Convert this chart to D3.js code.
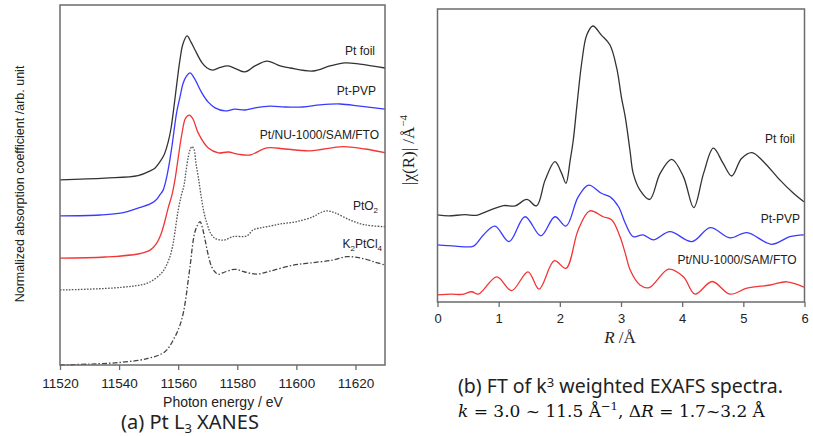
<!DOCTYPE html>
<html>
<head>
<meta charset="utf-8">
<script src="https://cdn.jsdelivr.net/npm/d3@7"></script>
<style>
  body { margin: 0; background: #fff; }
  svg { display: block; }
</style>
</head>
<body>
<div id="chart"></div>
<script>
// Pt L3 XANES spectra : [photon energy (eV), normalized absorption + offset]
const ptFoilXanes = [[11520,6.17],[11535.2,6.23],[11546.4,6.31],[11550.5,6.47],[11552.2,6.57],[11553.8,6.77],[11555.2,7.0],[11556.6,7.43],[11557.6,7.9],[11558.6,8.63],[11559.6,9.43],[11560.6,10.17],[11561.6,10.7],[11563.0,10.97],[11564.3,10.77],[11565.7,10.5],[11568.1,10.07],[11569.8,9.9],[11571.8,9.83],[11574.2,9.92],[11576.9,9.97],[11579.6,9.87],[11582.6,9.77],[11586.0,9.97],[11590.1,10.13],[11594.5,9.97],[11597.9,9.9],[11605.6,9.8],[11611.4,9.97],[11616.5,10.07],[11621.5,10.03],[11630,9.9]];
const ptPvpXanes = [[11520,4.97],[11533.5,5.0],[11541.0,5.07],[11546.4,5.23],[11550.5,5.37],[11552.5,5.5],[11553.8,5.67],[11554.9,5.83],[11555.9,6.17],[11556.9,6.67],[11557.9,7.3],[11559.5,8.43],[11560.6,8.93],[11561.7,9.4],[11562.8,9.63],[11564.0,9.74],[11565.4,9.57],[11568.0,9.07],[11570.1,8.77],[11572.5,8.57],[11575.8,8.47],[11579.2,8.53],[11582.6,8.5],[11586.0,8.57],[11591.1,8.63],[11596.2,8.6],[11602.2,8.6],[11608.0,8.67],[11614.8,8.7],[11621.5,8.63],[11630,8.53]];
const ptNuXanes = [[11520,3.56],[11535.2,3.6],[11546.4,3.7],[11550.5,3.83],[11552.5,4.03],[11554.2,4.37],[11555.5,4.8],[11556.6,5.23],[11557.9,5.67],[11558.9,6.17],[11559.9,6.83],[11561.2,7.67],[11562.5,8.23],[11563.8,8.33],[11565.0,8.2],[11566.8,7.73],[11570.2,7.23],[11573.6,7.07],[11576.9,7.1],[11580.2,7.03],[11584.3,7.0],[11590.0,7.24],[11596.2,7.2],[11604.7,7.14],[11615.8,7.28],[11623.3,7.2],[11630,7.08]];
const ptO2Xanes = [[11520,2.5],[11540.9,2.59],[11549.8,2.74],[11554.4,3.07],[11555.9,3.3],[11557.2,3.61],[11558.2,4.0],[11558.9,4.43],[11559.9,5.1],[11561.0,5.63],[11562.0,6.0],[11562.6,6.43],[11563.4,6.93],[11564.0,7.17],[11564.7,7.28],[11565.4,7.17],[11566.0,6.73],[11566.8,6.27],[11567.7,5.67],[11568.7,5.1],[11569.7,4.73],[11571.1,4.37],[11572.5,4.22],[11574.2,4.17],[11575.8,4.17],[11578.6,4.28],[11583.2,4.3],[11585.3,4.5],[11587.7,4.57],[11590.1,4.61],[11594.5,4.7],[11600.1,4.78],[11605.6,4.94],[11608.0,5.07],[11610.3,5.14],[11613.1,5.07],[11618.2,4.83],[11623.3,4.67],[11630,4.61]];
const k2PtCl4Xanes = [[11520,0.0],[11530.2,0.03],[11540.9,0.09],[11549.8,0.22],[11555.5,0.44],[11558.9,0.94],[11560.6,1.33],[11561.7,1.72],[11562.6,2.23],[11563.4,2.83],[11564.2,3.43],[11564.8,3.94],[11565.5,4.37],[11566.3,4.61],[11567.4,4.78],[11568.2,4.57],[11569.1,4.17],[11570.1,3.7],[11571.3,3.28],[11572.5,3.1],[11573.6,3.02],[11575.8,3.1],[11579.2,3.19],[11582.6,3.1],[11586.6,3.03],[11591.1,3.13],[11599.0,3.33],[11604.6,3.4],[11612.4,3.5],[11617.0,3.61],[11621.5,3.57],[11626.6,3.43],[11630,3.33]];

// FT of k3 weighted EXAFS : [R (Å), |chi(R)| + offset]
const ptFoilFt = [[0.0,2.97],[0.18,2.94],[0.45,2.98],[0.64,2.96],[0.83,3.11],[1.08,3.29],[1.27,3.28],[1.46,3.5],[1.62,3.28],[1.76,4.16],[1.92,4.79],[2.03,4.39],[2.10,4.05],[2.17,4.85],[2.22,5.53],[2.28,6.72],[2.36,8.2],[2.44,9.11],[2.54,9.42],[2.68,9.11],[2.82,8.77],[2.93,7.98],[3.01,6.95],[3.07,6.31],[3.15,5.12],[3.20,4.39],[3.31,3.82],[3.47,3.5],[3.64,4.39],[3.83,4.87],[4.02,4.28],[4.19,3.22],[4.35,4.39],[4.51,5.25],[4.67,4.73],[4.81,4.3],[4.97,4.9],[5.14,5.1],[5.33,4.79],[5.60,4.16],[5.82,3.71],[5.99,3.42]];
const ptPvpFt = [[0.0,1.95],[0.29,1.91],[0.59,1.91],[0.75,2.29],[0.94,2.59],[1.17,2.06],[1.43,2.91],[1.69,2.26],[1.92,2.91],[2.10,2.59],[2.30,3.59],[2.47,3.99],[2.68,3.71],[2.82,3.59],[2.96,3.25],[3.07,2.69],[3.20,2.23],[3.36,2.29],[3.53,2.12],[3.80,2.4],[4.16,2.06],[4.46,2.54],[4.78,2.19],[5.06,2.37],[5.46,1.97],[5.76,2.23],[5.99,2.29]];
const ptNuFt = [[0.0,0.24],[0.23,0.27],[0.40,0.26],[0.56,0.35],[0.67,0.27],[0.97,0.86],[1.21,0.39],[1.48,1.03],[1.66,0.44],[1.91,1.41],[2.10,1.15],[2.30,2.46],[2.49,3.11],[2.71,2.91],[2.85,2.8],[2.98,2.25],[3.07,1.66],[3.15,1.09],[3.31,0.58],[3.46,0.49],[3.78,1.12],[4.02,0.86],[4.21,0.27],[4.49,0.7],[4.78,0.27],[5.06,0.47],[5.44,0.58],[5.71,0.69],[5.99,0.51]];

const energyTicks = [11520, 11540, 11560, 11580, 11600, 11620];
const rTicks = [0, 1, 2, 3, 4, 5, 6];

const width = 813, height = 436;
const sans = "'Liberation Sans', Arial, sans-serif";
const serif = "'Liberation Serif', 'Times New Roman', serif";
const mathSerif = "'DejaVu Serif', serif";
const caption = "'Noto Sans', 'Noto Sans CJK JP', sans-serif";

const svg = d3.select("#chart").append("svg")
  .attr("width", width)
  .attr("height", height);

// ---------- (a) XANES ----------
const xA = d3.scaleLinear().domain([11520, 11630]).range([60, 385]);
const yA = d3.scaleLinear().domain([0, 12]).range([365, 5]);

const lineA = d3.line()
  .x(d => xA(d[0]))
  .y(d => yA(d[1]))
  .curve(d3.curveCatmullRom.alpha(0.5));

const gA = svg.append("g");

const xanes = [
  { data: ptFoilXanes, color: "#333", dash: null },
  { data: ptPvpXanes, color: "#3a3aff", dash: null },
  { data: ptNuXanes, color: "#f23535", dash: null },
  { data: ptO2Xanes, color: "#555", dash: "1.6,1.4" },
  { data: k2PtCl4Xanes, color: "#444", dash: "5,2,1.5,2" }
];

gA.selectAll("path.curve")
  .data(xanes)
  .join("path")
  .attr("class", "curve")
  .attr("fill", "none")
  .attr("stroke", d => d.color)
  .attr("stroke-width", 1.3)
  .attr("stroke-dasharray", d => d.dash)
  .attr("d", d => lineA(d.data));

gA.append("rect")
  .attr("x", 60).attr("y", 5)
  .attr("width", 325).attr("height", 360)
  .attr("fill", "none")
  .attr("stroke", "#6b6b6b")
  .attr("stroke-width", 1.5);

const axA = gA.append("g")
  .attr("transform", "translate(0,365)")
  .call(d3.axisBottom(xA).tickValues(energyTicks).tickFormat(d3.format("d"))
    .tickSize(5).tickSizeOuter(0).tickPadding(8));
axA.select(".domain").remove();
axA.selectAll(".tick line").attr("stroke", "#6b6b6b").attr("stroke-width", 1.3);
axA.selectAll(".tick text").attr("font-family", sans).attr("font-size", 13.5).attr("fill", "#222");

gA.append("text")
  .attr("x", 223).attr("y", 406.5)
  .attr("text-anchor", "middle")
  .attr("font-family", sans).attr("font-size", 14).attr("fill", "#222")
  .text("Photon energy / eV");

gA.append("text")
  .attr("transform", "translate(24,184) rotate(-90)")
  .attr("text-anchor", "middle")
  .attr("font-family", sans).attr("font-size", 12.5).attr("fill", "#222")
  .text("Normalized absorption coefficient /arb. unit");

// series labels
function label(g, x, y, parts) {
  const t = g.append("text")
    .attr("x", x).attr("y", y)
    .attr("text-anchor", "end")
    .attr("font-family", sans).attr("font-size", 12).attr("fill", "#222");
  parts.forEach(p => {
    const s = t.append("tspan").text(p[0]);
    if (p[1] === "sub") s.attr("font-size", 8).attr("baseline-shift", "-3");
  });
  return t;
}
label(gA, 375, 55, [["Pt foil"]]);
label(gA, 376, 95, [["Pt-PVP"]]);
label(gA, 379, 139.3, [["Pt/NU-1000/SAM/FTO"]]);
label(gA, 378, 210, [["PtO"], ["2", "sub"]]);
label(gA, 382, 248, [["K"], ["2", "sub"], ["PtCl"], ["4", "sub"]]);

const capA = gA.append("text")
  .attr("x", 190).attr("y", 429)
  .attr("text-anchor", "middle")
  .attr("font-family", caption).attr("font-size", 20).attr("fill", "#222");
capA.append("tspan").text("(a) Pt L");
capA.append("tspan").attr("font-size", 13).attr("baseline-shift", "-4").text("3");
capA.append("tspan").text(" XANES");

// ---------- (b) FT EXAFS ----------
const xB = d3.scaleLinear().domain([0, 6]).range([437.5, 804.5]);
const yB = d3.scaleLinear().domain([0, 10]).range([302, 9]);

const lineB = d3.line()
  .x(d => xB(d[0]))
  .y(d => yB(d[1]))
  .curve(d3.curveCatmullRom.alpha(0.5));

const gB = svg.append("g");

const ft = [
  { data: ptFoilFt, color: "#333" },
  { data: ptPvpFt, color: "#3a3aff" },
  { data: ptNuFt, color: "#f23535" }
];

gB.selectAll("path.curve")
  .data(ft)
  .join("path")
  .attr("class", "curve")
  .attr("fill", "none")
  .attr("stroke", d => d.color)
  .attr("stroke-width", 1.3)
  .attr("d", d => lineB(d.data));

gB.append("rect")
  .attr("x", 437.5).attr("y", 9)
  .attr("width", 367).attr("height", 293)
  .attr("fill", "none")
  .attr("stroke", "#6b6b6b")
  .attr("stroke-width", 1.5);

const axB = gB.append("g")
  .attr("transform", "translate(0,302)")
  .call(d3.axisBottom(xB).tickValues(rTicks).tickFormat(d3.format("d"))
    .tickSize(5).tickSizeOuter(0).tickPadding(7));
axB.select(".domain").remove();
axB.selectAll(".tick line").attr("stroke", "#6b6b6b").attr("stroke-width", 1.3);
axB.selectAll(".tick text").attr("font-family", sans).attr("font-size", 13).attr("fill", "#222");

const rLab = gB.append("text")
  .attr("x", 620).attr("y", 343)
  .attr("text-anchor", "middle")
  .attr("font-family", serif).attr("font-size", 17).attr("fill", "#222");
rLab.append("tspan").attr("font-style", "italic").text("R");
rLab.append("tspan").text(" /Å");

const yLab = gB.append("text")
  .attr("transform", "translate(414,150) rotate(-90)")
  .attr("text-anchor", "middle")
  .attr("font-family", serif).attr("font-size", 17).attr("fill", "#222");
yLab.append("tspan").text("|χ(R)| /Å");
yLab.append("tspan").attr("font-size", 11).attr("baseline-shift", "7").text("−4");

label(gB, 795, 143, [["Pt foil"]]);
label(gB, 800, 223.3, [["Pt-PVP"]]);
label(gB, 796.7, 264, [["Pt/NU-1000/SAM/FTO"]]);

const capB1 = gB.append("text")
  .attr("x", 458).attr("y", 392.5)
  .attr("font-family", caption).attr("font-size", 19.5).attr("fill", "#222");
capB1.append("tspan").text("(b) FT of k");
capB1.append("tspan").attr("font-size", 13).attr("baseline-shift", "6").text("3");
capB1.append("tspan").text(" weighted EXAFS spectra.");

const capB2 = gB.append("text")
  .attr("x", 458).attr("y", 417)
  .attr("font-family", mathSerif).attr("font-size", 17).attr("fill", "#111");
capB2.append("tspan").attr("font-style", "italic").text("k");
capB2.append("tspan").text(" = 3.0 ~ 11.5 Å");
capB2.append("tspan").attr("font-size", 11.5).attr("baseline-shift", "7").text("−1");
capB2.append("tspan").text(", Δ");
capB2.append("tspan").attr("font-style", "italic").text("R");
capB2.append("tspan").text(" = 1.7~3.2 Å");
</script>
</body>
</html>
